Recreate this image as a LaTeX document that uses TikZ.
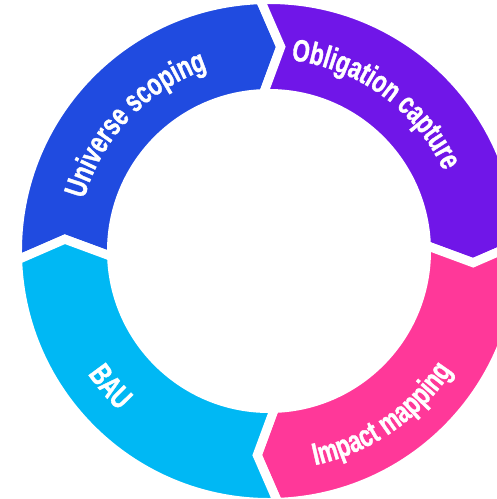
\documentclass[tikz,border=0pt]{standalone}
\usepackage{fontspec}
\usepackage{tikz}
\usetikzlibrary{decorations.text}

\newfontfamily\ringfam{Liberation Sans}[FakeStretch=0.72, FakeBold=1.2]

\definecolor{ScopeBlue}{RGB}{32,75,224}
\definecolor{CapturePurple}{RGB}{112,22,232}
\definecolor{ImpactPink}{RGB}{255,56,153}
\definecolor{BauCyan}{RGB}{0,184,244}

% Ring sizes (outline eats half the white gap)
\def\Ro{251.5pt}
\def\Ri{157.5pt}
\def\Rm{204.5pt}
\def\Rtop{192pt}
\def\Rbot{219pt}

% Label font
\newcommand{\ringfont}{\ringfam\bfseries\fontsize{31}{32}\selectfont\color{white}}

% One arrow-shaped part of the ring, clockwise from #1 to #2
\newcommand{\ringpart}[3]{%
  \filldraw[seg, fill=#3] (#1:\Ro) arc[start angle=#1, end angle=#2, radius=\Ro]
    -- ({#2-5.3}:\Rm) -- (#2:\Ri)
    arc[start angle=#2, end angle=#1, radius=\Ri]
    -- ({#1-5.3}:\Rm) -- cycle;}

\begin{document}
\begin{tikzpicture}

% Ring styles
\tikzset{seg/.style={draw = white, line width = 9pt, line join = miter}}
\tikzset{lbl/.style={decorate, decoration={text along path, text align = center}}}

% Frame of the picture
\useasboundingbox (-269pt,-248pt) rectangle (228pt,251pt);
\clip (-269pt,-248pt) rectangle (228pt,251pt);

% Ring parts
\ringpart{182}{92}{ScopeBlue}
\ringpart{92}{2}{CapturePurple}
\ringpart{2}{-88}{ImpactPink}
\ringpart{272}{182}{BauCyan}

% Labels on the top half
\path[lbl, decoration={text = {|\ringfont|Universe scoping}}]
  (186.5:\Rtop) arc[start angle=186.5, end angle=86.5, radius=\Rtop];
\path[lbl, decoration={text = {|\ringfont|Obligation capture}}]
  (104:\Rtop) arc[start angle=104, end angle=4, radius=\Rtop];

% Labels on the bottom half
\path[lbl, decoration={text = {|\ringfont|Impact mapping}}]
  (-105.5:\Rbot) arc[start angle=-105.5, end angle=-5.5, radius=\Rbot];
\path[lbl, decoration={text = {|\ringfont|BAU}}]
  (190.5:\Rbot) arc[start angle=190.5, end angle=250.5, radius=\Rbot];

\end{tikzpicture}
\end{document}
